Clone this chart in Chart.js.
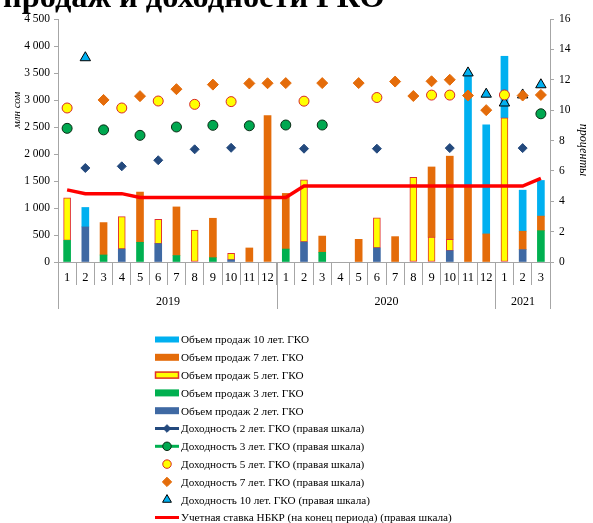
<!DOCTYPE html>
<html>
<head>
<meta charset="utf-8">
<script src="https://cdn.jsdelivr.net/npm/chart.js@4.4.1/dist/chart.umd.min.js"></script>
<style>
  body { margin: 0; background: #fff; }
  canvas { display: block; }
</style>
</head>
<body>
<canvas id="c" width="593" height="523"></canvas>
<script>
const months = ['1','2','3','4','5','6','7','8','9','10','11','12',
                '1','2','3','4','5','6','7','8','9','10','11','12',
                '1','2','3'];
const yearLabels = ['2019', '2020', '2021'];
const yearSpans = [12, 12, 3];

// объем продаж, млн сом
const sales2 = [null,650,null,240,null,340,null,null,null,40,null,null,
                null,370,null,null,null,260,null,null,null,210,null,null,
                null,230,null];
const sales3 = [400,null,130,null,365,null,120,null,80,null,null,null,
                240,null,180,null,null,null,null,null,null,null,null,null,
                null,null,580];
const sales5 = [790,null,null,600,null,450,null,590,null,120,null,null,
                null,1150,null,null,null,560,null,1570,460,210,null,null,
                2670,null,null];
const sales7 = [null,null,600,null,930,null,900,null,730,null,260,2710,
                1030,null,300,null,420,null,470,null,1300,1540,1390,520,
                null,340,270];
const sales10 = [null,360,null,null,null,null,null,null,null,null,null,null,
                 null,null,null,null,null,null,null,null,null,null,2110,2020,
                 1140,760,660];

// доходности, %
const yield2 = [null,6.19,null,6.3,null,6.7,null,7.42,null,7.52,null,null,
                null,7.46,null,null,null,7.46,null,null,null,7.5,null,null,
                null,7.5,null];
const yield3 = [8.8,null,8.7,null,8.34,null,8.89,null,9.0,null,8.97,null,
                9.02,null,9.02,null,null,null,null,null,null,null,null,null,
                null,null,9.76];
const yield5 = [10.14,null,null,10.14,null,10.6,null,10.38,null,10.56,null,null,
                null,10.59,null,null,null,10.83,null,null,10.99,10.99,null,null,
                11.0,null,null];
const yield7 = [null,null,10.67,null,10.92,null,11.38,null,11.68,null,11.76,11.77,
                11.78,null,11.78,null,11.78,null,11.88,10.93,11.9,12.0,10.96,10.0,
                null,10.96,11.0];
const yield10 = [null,13.45,null,null,null,null,null,null,null,null,null,null,
                 null,null,null,null,null,null,null,null,null,null,12.45,11.05,
                 10.47,11.0,11.67];
const rateNBKR = [4.75,4.5,4.5,4.5,4.25,4.25,4.25,4.25,4.25,4.25,4.25,4.25,
                  4.25,5,5,5,5,5,5,5,5,5,5,5,
                  5,5,5.5];

const SERIF = '"Liberation Serif", "Times New Roman", serif';
const GRID = '#a6a6a6';

function bar(label, data, color, extra) {
  return Object.assign({
    type: 'bar', label: label, data: data, backgroundColor: color,
    yAxisID: 'y', barThickness: 7, order: 10, borderWidth: 0
  }, extra || {});
}

function marks(label, data, style, radius, fill, border, extra) {
  return Object.assign({
    type: 'line', label: label, data: data, yAxisID: 'y1',
    showLine: false, spanGaps: false,
    pointStyle: style, pointRadius: radius,
    pointBackgroundColor: fill, pointBorderColor: border, pointBorderWidth: 1,
    backgroundColor: fill, borderColor: border, order: 1
  }, extra || {});
}

const datasets = [
  bar('Объем продаж 2 лет. ГКО', sales2, '#3f69a3'),
  bar('Объем продаж 3 лет. ГКО', sales3, '#00b050'),
  bar('Объем продаж 5 лет. ГКО', sales5, '#ffff00',
      { borderColor: '#e0302e', borderWidth: 1, borderSkipped: false }),
  bar('Объем продаж 7 лет. ГКО', sales7, '#e46c0a'),
  bar('Объем продаж 10 лет. ГКО', sales10, '#00b0f0'),
  marks('Доходность 2 лет. ГКО (правая шкала)', yield2, 'rectRot', 4.5, '#23497d', '#23497d',
        { showLine: true, borderWidth: 3, legendLine: true }),
  marks('Доходность 3 лет. ГКО (правая шкала)', yield3, 'circle', 5, '#00a850', '#0a2a14',
        { showLine: true, borderWidth: 3, legendLine: '#00b050' }),
  marks('Доходность 5 лет. ГКО (правая шкала)', yield5, 'circle', 5, '#ffff00', '#d8262a'),
  marks('Доходность 7 лет. ГКО (правая шкала)', yield7, 'rectRot', 5.5, '#e46c0a', '#e46c0a'),
  marks('Доходность 10 лет. ГКО (правая шкала)', yield10, 'triangle', 6, '#00b0f0', '#000000'),
  { type: 'line', label: 'Учетная ставка НБКР (на конец периода) (правая шкала)', data: rateNBKR,
    yAxisID: 'y1', borderColor: '#ff0000', backgroundColor: '#ff0000', borderWidth: 3.5,
    pointRadius: 0, order: 3, tension: 0, legendLine: true }
];
const legendOrder = [4, 3, 2, 1, 0, 5, 6, 7, 8, 9, 10];

const decor = {
  id: 'decor',
  afterDraw(chart) {
    const ctx = chart.ctx;
    const xs = chart.scales.x;
    ctx.save();

    // заголовок (верхняя часть обрезана)
    ctx.fillStyle = '#000';
    ctx.textBaseline = 'alphabetic';
    ctx.textAlign = 'left';
    const title = 'продаж и доходности ГКО';
    ctx.font = 'bold 30px ' + SERIF;
    const w = ctx.measureText(title).width;
    ctx.font = 'bold ' + (30 * 382 / w).toFixed(1) + 'px ' + SERIF;
    ctx.fillText(title, 3, 7);

    // подписи осей
    ctx.font = 'italic 11px ' + SERIF;
    ctx.textAlign = 'center';
    ctx.textBaseline = 'middle';
    ctx.save();
    ctx.translate(17, 110);
    ctx.rotate(-Math.PI / 2);
    ctx.fillText('млн сом', 0, 0);
    ctx.restore();
    ctx.font = 'italic 12px ' + SERIF;
    ctx.save();
    ctx.translate(583, 150);
    ctx.rotate(Math.PI / 2);
    ctx.fillText('проценты', 0, 0);
    ctx.restore();

    // второй уровень оси X: годы
    const half = (xs.getPixelForValue(1) - xs.getPixelForValue(0)) / 2;
    ctx.strokeStyle = GRID;
    ctx.lineWidth = 1;
    ctx.font = '12px ' + SERIF;
    let start = 0;
    yearLabels.forEach((yr, k) => {
      const end = start + yearSpans[k] - 1;
      const left = Math.round(xs.getPixelForValue(start) - half) + 0.5;
      const right = Math.round(xs.getPixelForValue(end) + half) + 0.5;
      ctx.beginPath();
      ctx.moveTo(left, xs.top);
      ctx.lineTo(left, xs.top + 47);
      ctx.moveTo(right, xs.top);
      ctx.lineTo(right, xs.top + 47);
      ctx.stroke();
      ctx.fillStyle = '#000';
      ctx.fillText(yr, (left + right) / 2, xs.top + 40);
      start += yearSpans[k];
    });

    // легенда
    const y0 = 339.5, step = 17.8, sx = 155, sw = 24;
    ctx.textAlign = 'left';
    legendOrder.forEach((di, n) => {
      const ds = chart.data.datasets[di];
      const y = y0 + n * step;
      if (ds.type === 'bar') {
        const h = di === 4 ? 6 : 7;
        ctx.fillStyle = ds.backgroundColor;
        ctx.fillRect(sx, y - h / 2, sw, h);
        if (ds.borderWidth) {
          ctx.strokeStyle = ds.borderColor;
          ctx.lineWidth = 1.5;
          ctx.strokeRect(sx + 0.5, y - h / 2 + 0.5, sw - 1, h - 1);
        }
      } else {
        if (ds.legendLine) {
          ctx.strokeStyle = typeof ds.legendLine === 'string' ? ds.legendLine : ds.borderColor;
          ctx.lineWidth = 3;
          ctx.beginPath();
          ctx.moveTo(sx, y);
          ctx.lineTo(sx + sw, y);
          ctx.stroke();
        }
        if (ds.pointRadius) {
          ctx.fillStyle = ds.pointBackgroundColor;
          ctx.strokeStyle = ds.pointBorderColor;
          ctx.lineWidth = 1;
          Chart.helpers.drawPoint(ctx, {
            pointStyle: ds.pointStyle, radius: ds.pointRadius * 0.85,
            rotation: 0, borderWidth: 1
          }, sx + sw / 2, y);
        }
      }
      ctx.fillStyle = '#000';
      ctx.font = '11.2px ' + SERIF;
      ctx.textBaseline = 'middle';
      ctx.fillText(ds.label, sx + sw + 2, y + 1);
    });
    ctx.restore();
  }
};

const fmt = v => String(v).replace(/\B(?=(\d{3})+(?!\d))/g, ' ');

new Chart(document.getElementById('c'), {
  type: 'bar',
  data: { labels: months, datasets: datasets },
  options: {
    responsive: false,
    animation: false,
    layout: { padding: { top: 19, left: 0, right: 0, bottom: 0 } },
    plugins: { legend: { display: false }, tooltip: { enabled: false } },
    scales: {
      x: {
        stacked: true,
        offset: true,
        grid: { offset: true, drawOnChartArea: false, tickLength: 23, color: GRID },
        border: { color: GRID },
        ticks: { padding: -15, autoSkip: false, maxRotation: 0, color: '#000',
                 font: { family: SERIF, size: 12.5 } },
        afterFit: s => { s.height = 261; }
      },
      y: {
        stacked: true,
        min: 0, max: 4500,
        grid: { drawOnChartArea: false, tickLength: 4, color: GRID },
        border: { color: GRID },
        ticks: { stepSize: 500, padding: 4, color: '#000', callback: fmt,
                 font: { family: SERIF, size: 11.5 } },
        afterFit: s => { s.width = 58; }
      },
      y1: {
        position: 'right',
        min: 0, max: 16,
        grid: { drawOnChartArea: false, tickLength: 4, color: GRID },
        border: { color: GRID },
        ticks: { stepSize: 2, padding: 5, color: '#000',
                 font: { family: SERIF, size: 11.5 } },
        afterFit: s => { s.width = 43; }
      }
    }
  },
  plugins: [decor]
});
</script>
</body>
</html>
